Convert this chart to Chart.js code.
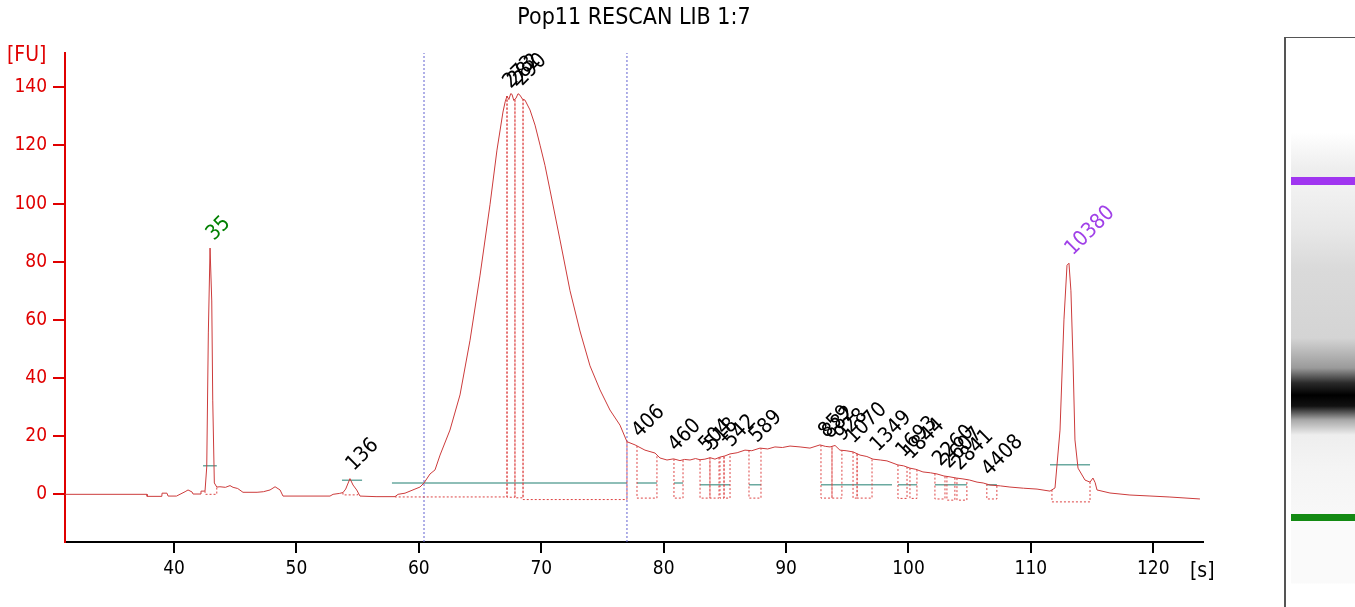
<!DOCTYPE html>
<html>
<head>
<meta charset="utf-8">
<script src="https://cdn.jsdelivr.net/npm/chart.js@4.4.1/dist/chart.umd.min.js"></script>
<style>
  html, body { margin: 0; padding: 0; background: #fff; }
  #wrap { position: relative; width: 1355px; height: 607px; overflow: hidden; }
  #gel { position: absolute; left: 1284px; top: 37px; width: 71px; height: 570px;
         border-left: 2px solid #555; border-top: 1px solid #555; box-sizing: border-box; }
  #lane { position: absolute; left: 5px; top: 0; right: 0; height: 550px;
    background: linear-gradient(to bottom,
      #fff 0px, #fff 95px, #eee 130px, #ededed 139px,
      #a035f0 139px, #a035f0 147px, #f2f2f2 147px,
      #e8e8e8 190px, #dadada 230px, #d4d4d4 300px, #9a9a9a 330px,
      #2a2a2a 345px, #000 357px, #111 368px, #a8a8a8 382px, #eee 397px,
      #f4f4f4 430px, #f8f8f8 476px,
      #138a13 476px, #138a13 483px, #fafafa 483px, #fafafa 545px, #fff 546px); }
</style>
</head>
<body>
<div id="wrap">
  <canvas id="myChart" width="1355" height="607"></canvas>
  <div id="gel"><div id="lane"></div></div>
</div>
<script>
// electropherogram trace, time [s] and fluorescence [FU]
const traceTime = [31.09, 37.79, 37.80, 39.00, 39.02, 39.42, 39.51, 40.2, 40.9, 41.14, 41.47, 41.55, 42.12, 42.2, 42.45,
  42.53, 42.67, 42.80, 42.94, 43.08, 43.16, 43.29, 43.49, 43.75, 44.2, 44.57, 44.82, 45.2, 45.63, 46.78, 47.3, 47.84,
  48.25, 48.66, 48.90, 52.74, 52.99, 53.5, 53.80, 54.02, 54.37, 54.62, 54.92, 55.19, 56.5, 58.05, 58.3, 58.87, 59.68,
  60.09, 60.42, 60.91, 61.32, 61.73, 62.54, 63.36, 64.18, 65.00, 65.81, 66.38, 66.87, 67.05, 67.20, 67.35, 67.5, 67.61,
  67.75, 67.94, 68.1, 68.26, 68.45, 68.67, 69.08, 69.49, 69.90, 70.30, 70.71, 71.53, 72.35, 73.16, 73.98, 74.80, 75.61,
  76.43, 77.00, 77.66, 78.47, 79.29, 79.70, 80.27, 80.8, 81.33, 81.7, 82.15, 82.6, 82.97, 83.37, 83.8, 84.19, 84.60,
  85.0, 85.42, 86.0, 86.64, 87.2, 87.87, 88.5, 89.09, 89.7, 90.32, 91.14, 91.95, 92.77, 93.2, 93.59, 94.0, 94.40, 94.9,
  95.47, 96.04, 96.6, 97.10, 97.7, 98.24, 99.14, 99.6, 100.12, 100.6, 101.18, 101.8, 102.33, 102.9, 103.39, 103.9,
  104.45, 105.0, 105.60, 106.1, 106.66, 107.5, 108.29, 109.4, 110.50, 111.56, 111.97, 112.38, 112.70, 112.95, 113.11,
  113.27, 113.44, 113.60, 113.85, 114.42, 114.83, 115.07, 115.25, 115.40, 116.46, 118.09, 119.73, 121.36, 123.81];
const traceFU = [0, 0, -0.7, -0.7, 0.4, 0.4, -0.6, -0.6, 0.9, 1.5, 0.8, 0.1, 0.1, 1.1, 1.1,
  1.2, 9.4, 55.5, 84.7, 66.5, 32.4, 3.9, 2.5, 2.6, 2.4, 3.0, 2.4, 2.0, 0.7, 0.7, 0.9, 1.5,
  2.6, 1.5, -0.6, -0.6, 0.0, 0.3, 0.6, 1.8, 5.4, 3.2, 1.5, -0.6, -0.8, -0.8, 0.0, 0.4, 1.8,
  2.5, 3.9, 7.0, 8.4, 13.5, 22.1, 34.2, 53.0, 75.4, 99.6, 118.4, 131.5, 135.0, 137.0, 135.8, 137.8, 137.6,
  135.5, 136.3, 137.8, 137.3, 136.0, 135.6, 132.2, 127.0, 120.1, 113.2, 104.7, 87.5, 70.0, 56.2, 44.2, 35.9, 29.0,
  23.8, 18.1, 17.0, 15.2, 14.2, 12.5, 11.8, 12.2, 11.6, 12.0, 11.8, 12.3, 11.9, 12.1, 12.6, 12.1, 12.8,
  13.2, 13.9, 14.3, 15.2, 15.0, 15.9, 15.6, 16.3, 16.1, 16.6, 16.3, 15.9, 17.0, 16.5, 16.3, 16.8, 15.2, 15.0,
  14.6, 13.5, 13.0, 12.1, 11.8, 11.5, 10.1, 9.8, 9.0, 8.6, 7.7, 7.4, 7.0, 6.3, 6.0, 5.6,
  5.3, 4.9, 4.2, 3.9, 3.2, 2.9, 2.5, 2.1, 1.8, 1.1, 2.2, 22.1, 60.0, 78.8, 79.5,
  70.0, 46.2, 18.7, 9.0, 4.9, 4.2, 5.6, 4.0, 1.5, 0.45, -0.24, -0.58, -0.93, -1.6];

// called peaks (size in bp) and their migration times
const peakLabels = ['35', '136', '273', '282', '290', '406', '460', '504', '518', '542', '589',
  '859', '882', '928', '1070', '1349', '1693', '1844', '2260', '2607', '2841', '4408', '10380'];
const peakTimes = [42.94, 54.37, 67.2, 67.6, 68.1, 77.73, 80.7, 83.2, 83.7, 85.2, 87.3,
  92.97, 93.3, 94.3, 95.2, 97.2, 99.3, 99.9, 102.3, 103.0, 103.9, 106.3, 113.11];

// peak windows (dotted boxes)
const windowStart = [42.53, 53.80, 58.05, 67.2, 67.85, 68.51, 77.82, 80.84, 82.97, 83.78, 84.60, 84.93, 86.97,
  92.85, 93.75, 95.47, 95.80, 99.14, 100.12, 102.16, 103.14, 103.96, 106.40, 111.72];
const windowEnd = [43.49, 55.0, 67.2, 67.85, 68.51, 77.0, 79.45, 81.58, 83.78, 84.52, 84.93, 85.42, 87.95,
  93.75, 94.56, 95.80, 97.02, 99.88, 100.69, 102.98, 103.79, 104.77, 107.22, 114.83];
const windowFloor = [0, -0.2, -0.9, -1.0, -1.2, -1.8, -1.3, -1.3, -1.3, -1.3, -1.3, -1.3, -1.3,
  -1.3, -1.3, -1.3, -1.3, -1.4, -1.4, -1.6, -2.0, -2.0, -1.6, -2.6];

// peak baselines
const baselineStart = [42.37, 53.72, 57.8, 77.82, 80.84, 82.97, 86.97, 92.85, 99.14, 102.16, 106.40, 111.56];
const baselineEnd = [43.49, 55.36, 77.0, 79.45, 81.58, 85.42, 87.95, 98.65, 100.69, 104.77, 107.22, 114.83];
const baselineLevel = [9.8, 4.8, 3.9, 3.9, 3.9, 3.3, 3.3, 3.3, 3.3, 3.3, 3.3, 10.2];

// region markers
const markerTimes = [60.42, 77.0];

const xTicks = [40, 50, 60, 70, 80, 90, 100, 110, 120];
const yTicks = [0, 20, 40, 60, 80, 100, 120, 140];
const xMin = 31.09, xMax = 124.06, yMin = -16.4, yMax = 151.8;

const FONT = '"DejaVu Sans Condensed", "DejaVu Sans", sans-serif';
const RED = '#e00000';
const labelColors = { '35': '#008000', '10380': '#a040e8' };

function traceAt(t) {
    for (let i = 1; i < traceTime.length; i++) {
        if (traceTime[i] >= t) {
            const a = traceTime[i - 1], b = traceTime[i];
            const f = (t - a) / (b - a);
            return traceFU[i - 1] + f * (traceFU[i] - traceFU[i - 1]);
        }
    }
    return traceFU[traceFU.length - 1];
}

const trace = traceTime.map((t, i) => ({ x: t, y: traceFU[i] }));

const windows = [];
windowStart.forEach((a, i) => {
    const b = windowEnd[i], f = windowFloor[i];
    windows.push({ x: a, y: traceAt(a) }, { x: a, y: f }, { x: b, y: f }, { x: b, y: traceAt(b) }, { x: b, y: null });
});

const baselines = [];
baselineStart.forEach((a, i) => {
    baselines.push({ x: a, y: baselineLevel[i] }, { x: baselineEnd[i], y: baselineLevel[i] }, { x: baselineEnd[i], y: null });
});

const markers = [];
markerTimes.forEach(t => {
    markers.push({ x: t, y: yMin }, { x: t, y: yMax }, { x: t, y: null });
});

const peakLabelPlugin = {
    id: 'peakLabels',
    afterDatasetsDraw(chart) {
        const { ctx, scales: { x, y } } = chart;
        ctx.save();
        ctx.font = '21px ' + FONT;
        ctx.textAlign = 'left';
        ctx.textBaseline = 'middle';
        peakLabels.forEach((lbl, i) => {
            const t = peakTimes[i];
            const px = x.getPixelForValue(t);
            const py = y.getPixelForValue(traceAt(t));
            ctx.save();
            ctx.translate(px, py - 11);
            ctx.rotate(-Math.PI / 4);
            ctx.fillStyle = labelColors[lbl] || '#000';
            ctx.fillText(lbl, 0, 0);
            ctx.restore();
        });
        ctx.fillStyle = RED;
        ctx.fillText('[FU]', 7, 56);
        ctx.fillStyle = '#000';
        ctx.fillText('[s]', x.right - 13, 572);
        ctx.restore();
    }
};

const ctx = document.getElementById('myChart').getContext('2d');
const myChart = new Chart(ctx, {
    type: 'line',
    data: {
        datasets: [{
            label: 'trace',
            data: trace,
            borderColor: '#cc3b3b',
            borderWidth: 1,
            pointRadius: 0,
            tension: 0
        }, {
            label: 'windows',
            data: windows,
            borderColor: '#dd4444',
            borderWidth: 1,
            borderDash: [2, 2],
            pointRadius: 0,
            spanGaps: false
        }, {
            label: 'baselines',
            data: baselines,
            borderColor: '#6aa9a0',
            borderWidth: 1.5,
            pointRadius: 0,
            spanGaps: false
        }, {
            label: 'markers',
            data: markers,
            borderColor: '#6060d0',
            borderWidth: 1,
            borderDash: [2, 2],
            pointRadius: 0,
            spanGaps: false
        }]
    },
    options: {
        responsive: false,
        animation: false,
        devicePixelRatio: 1,
        layout: { padding: { left: 0, right: 152, top: 0, bottom: 0 } },
        plugins: {
            legend: { display: false },
            tooltip: { enabled: false },
            title: {
                display: true,
                fullSize: false,
                text: 'Pop11 RESCAN LIB 1:7',
                color: '#000',
                font: { family: FONT, size: 23, weight: 'normal' },
                padding: { top: 4, bottom: 21.4 }
            }
        },
        scales: {
            x: {
                type: 'linear',
                min: xMin,
                max: xMax,
                afterFit(scale) { scale.height = 65; },
                afterBuildTicks(scale) { scale.ticks = xTicks.map(v => ({ value: v })); },
                ticks: { color: '#000', font: { family: FONT, size: 19 }, padding: 5, maxRotation: 0 },
                grid: { drawOnChartArea: false, drawTicks: true, tickLength: 11, color: '#000', lineWidth: 2 },
                border: { display: true, color: '#000', width: 2 }
            },
            y: {
                min: yMin,
                max: yMax,
                afterFit(scale) { scale.width = 65; },
                afterBuildTicks(scale) { scale.ticks = yTicks.map(v => ({ value: v })); },
                ticks: { color: RED, font: { family: FONT, size: 19 }, padding: 6 },
                grid: { drawOnChartArea: false, drawTicks: true, tickLength: 12, color: RED, lineWidth: 2 },
                border: { display: true, color: RED, width: 2 }
            }
        }
    },
    plugins: [peakLabelPlugin]
});
</script>
</body>
</html>
